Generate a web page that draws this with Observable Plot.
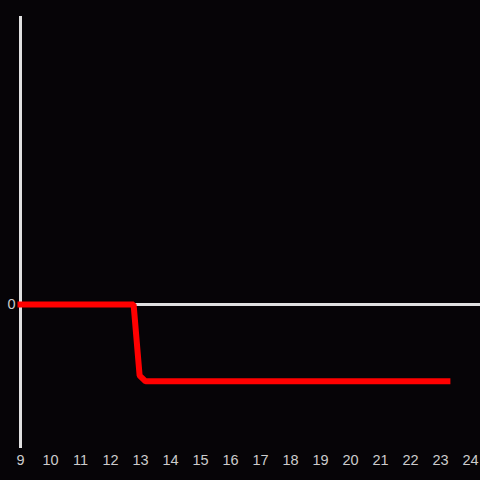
<!DOCTYPE html>
<html>
<head>
<meta charset="utf-8">
<script src="https://cdn.jsdelivr.net/npm/d3@7"></script>
<script src="https://cdn.jsdelivr.net/npm/@observablehq/plot@0.6"></script>
<style>
  html, body { margin: 0; padding: 0; background: #060407; }
  #chart { width: 480px; height: 480px; }
</style>
</head>
<body>
<div id="chart"></div>
<script>
const xs = [9, 12.77, 12.97, 13.17, 23.23];
const ys = [0, 0, -0.74, -0.8, -0.8];
const xTicks = [9,10,11,12,13,14,15,16,17,18,19,20,21,22,23,24];
const yTicks = [0];

const data = xs.map((x, i) => ({x, y: ys[i]}));

const chart = Plot.plot({
  width: 480,
  height: 480,
  marginLeft: 20,
  marginRight: 10,
  marginTop: 16,
  marginBottom: 32,
  style: {background: "#060407", color: "#cccccc", fontFamily: "Liberation Sans, Arial, sans-serif", fontSize: "14.5px"},
  x: {domain: [9, 24], ticks: xTicks, tickFormat: d => String(d), tickSize: 0, tickPadding: 6, label: null},
  y: {domain: [-1.5, 3], ticks: yTicks, tickFormat: d => String(d), tickSize: 0, tickPadding: 5, label: null},
  marks: [
    Plot.ruleX([9], {stroke: "#e0e0e0", strokeWidth: 3}),
    Plot.ruleY([0], {x1: 9, x2: 24.4, stroke: "#e0e0e0", strokeWidth: 3}),
    Plot.line(data, {x: "x", y: "y", stroke: "#ff0000", strokeWidth: 6, strokeLinecap: "square", strokeLinejoin: "miter"})
  ]
});
document.getElementById("chart").appendChild(chart);
</script>
</body>
</html>
